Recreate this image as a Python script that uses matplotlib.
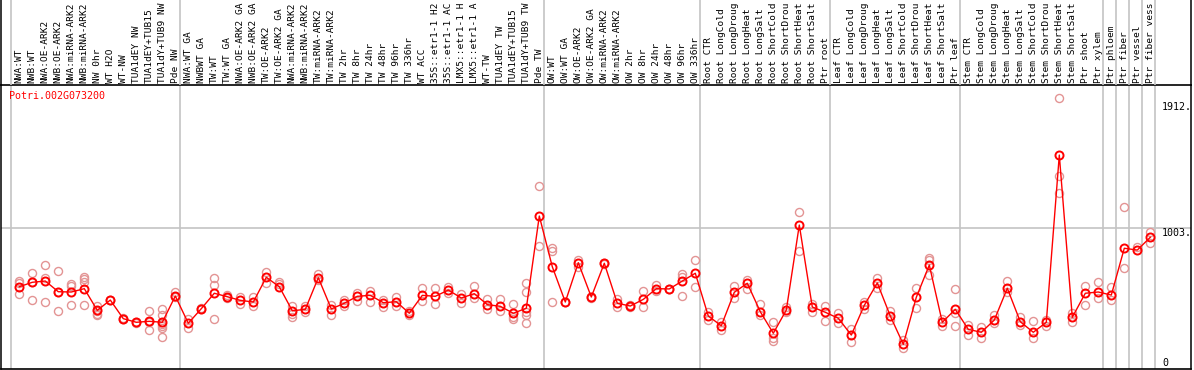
import matplotlib
matplotlib.use("Agg")
import matplotlib.pyplot as plt
from matplotlib.transforms import blended_transform_factory

categories = [
    "NWA:WT", "NWB:WT", "NWA:OE-ARK2", "NWB:OE-ARK2", "NWA:miRNA-ARK2", "NWB:miRNA-ARK2",
    "NW 0hr", "WT H2O", "WT-NW", "TUA1dEY NW", "TUA1dEY+TUB15", "TUA1dY+TUB9 NW", "Pde NW",
    "NWA:WT GA", "NWBWT GA", "TW:WT", "TW:WT GA", "NWA:OE-ARK2 GA", "NWB:OE-ARK2 GA",
    "TW:OE-ARK2", "TW:OE-ARK2 GA", "NWA:miRNA-ARK2", "NWB:miRNA-ARK2", "TW:miRNA-ARK2",
    "TW:miRNA-ARK2", "TW 2hr", "TW 8hr", "TW 24hr", "TW 48hr", "TW 96hr", "TW 336hr",
    "WT ACC", "35S::etr1-1 H2", "35S::etr1-1 AC", "LMX5::etr1-1 H", "LMX5::etr1-1 A",
    "WT-TW", "TUA1dEY TW", "TUA1dEY+TUB15", "TUA1dY+TUB9 TW", "Pde TW",
    "OW:WT", "OW:WT GA", "OW:OE-ARK2", "OW:OE-ARK2 GA", "OW:miRNA-ARK2", "OW:miRNA-ARK2",
    "OW 2hr", "OW 8hr", "OW 24hr", "OW 48hr", "OW 96hr", "OW 336hr",
    "Root CTR", "Root LongCold", "Root LongDroug", "Root LongHeat", "Root LongSalt",
    "Root ShortCold", "Root ShortDrou", "Root ShortHeat", "Root ShortSalt", "Ptr root",
    "Leaf CTR", "Leaf LongCold", "Leaf LongDroug", "Leaf LongHeat", "Leaf LongSalt",
    "Leaf ShortCold", "Leaf ShortDrou", "Leaf ShortHeat", "Leaf ShortSalt", "Ptr leaf",
    "Stem CTR", "Stem LongCold", "Stem LongDroug", "Stem LongHeat", "Stem LongSalt",
    "Stem ShortCold", "Stem ShortDrou", "Stem ShortHeat", "Stem ShortSalt", "Ptr shoot",
    "Ptr xylem", "Ptr phloem", "Ptr fiber", "Ptr vessel", "Ptr fiber vess",
]

mean_values = [
    583, 615, 624, 547, 545, 569, 413, 487, 353, 327, 334, 327, 516,
    320, 425, 536, 511, 485, 473, 651, 583, 410, 420, 648, 423, 464, 514, 521, 468, 475,
    392, 521, 514, 559, 502, 533, 454, 442, 392, 428, 1092,
    727, 473, 756, 509, 752, 464, 444, 492, 569, 567, 624, 680,
    372, 302, 543, 608, 403, 248, 415, 1027, 437, 399,
    356, 235, 449, 610, 372, 168, 507, 739, 327, 420,
    276, 255, 343, 572, 331, 255, 327, 1531, 363, 536,
    545, 523, 860, 847, 939,
]

replicates = [
    [624, 608, 528], [682, 485, 617], [737, 644, 471], [694, 408, 545], [600, 588, 451],
    [655, 636, 619, 451], [446, 408, 387, 377], [485, 490], [352, 355], [325, 329],
    [408, 331, 271], [420, 379, 315, 300, 284, 219], [545, 511],
    [351, 284], [423, 428], [648, 598, 351], [523, 500], [511, 456], [507, 444],
    [687, 612], [619, 600], [444, 387, 363], [444, 403], [672, 631], [451, 379],
    [487, 444], [540, 482], [554, 475], [487, 435], [511, 444], [410, 379],
    [572, 482], [572, 459], [583, 536], [531, 468], [588, 500], [497, 420],
    [495, 410], [456, 367, 348], [608, 547, 403, 379, 320], [1308, 878],
    [864, 842, 471], [470, 476], [775, 723], [505, 512], [748, 756], [497, 435],
    [440, 448], [550, 435], [598, 550], [565, 569], [675, 655, 518], [775, 583],
    [403, 343], [331, 271], [588, 504], [631, 564], [459, 379], [327, 212, 192],
    [439, 399], [1123, 840], [459, 403], [444, 334],
    [396, 324], [276, 187], [475, 420], [646, 572], [410, 343], [199, 144],
    [572, 432], [788, 775, 667], [351, 300], [564, 396, 300],
    [307, 235], [295, 212], [379, 320], [624, 547], [363, 307], [336, 212],
    [343, 302], [1940, 1382, 1260], [392, 327], [590, 451],
    [615, 500], [583, 487], [1155, 716], [871], [979, 900],
]

group_starts = [0, 13, 41, 53, 63, 73, 84, 85, 86, 87, 88]
gene_id = "Potri.002G073200"
axis_labels = [(1912, "1912.", "top"), (1003, "1003.", "top"), (0, "0", "bottom")]
grid_values = [1003]

W, H = 1194, 370
fig = plt.figure(figsize=(W / 100, H / 100), dpi=100)

def px_rect(x0, y0, x1, y1):
    return [x0 / W, 1 - y1 / H, (x1 - x0) / W, (y1 - y0) / H]

L, R = 1, 1191
xlim = ((L - 19.3) / 13, (R - 19.3) / 13)
ylim = (-(369 - 367.7) * 7.2, (367.7 - 85) * 7.2)

ax = fig.add_axes(px_rect(L, 85, R, 369))
top = fig.add_axes(px_rect(L, 0, R, 85))

mono = "DejaVu Sans Mono"
fs = 7.2
fs_lab = 6.8
grid_c = "#c4c4c4"
rep_c = "#e39494"

for a in (ax, top):
    a.set_xlim(*xlim)
    a.set_xticks([])
    a.set_yticks([])
    a.patch.set_alpha(0)
    for s in a.spines.values():
        s.set_visible(False)
    for side in ("left", "right"):
        a.spines[side].set_visible(True)
        a.spines[side].set_color("black")
        a.spines[side].set_linewidth(1.1)

ax.set_ylim(*ylim)
top.set_ylim(0, 1)
for side in ("bottom", "top"):
    ax.spines[side].set_visible(True)
    ax.spines[side].set_color("black")
    ax.spines[side].set_linewidth(1.2)

for g in group_starts:
    ax.axvline(g - 8 / 13, color=grid_c, lw=1.2, zorder=1)
    top.axvline(g - 8 / 13, color=grid_c, lw=1.2, zorder=1)
for gv in grid_values:
    ax.axhline(gv, color=grid_c, lw=1.2, zorder=1)

# replicate points
for i, reps in enumerate(replicates):
    ax.plot([i] * len(reps), reps, linestyle="none", marker="o", ms=5.8,
            mfc="none", mec=rep_c, mew=1.0, zorder=2, clip_on=False)

xs = list(range(len(categories)))
ax.plot(xs, mean_values, color="#ff0000", lw=1.0, marker="o", ms=5.8,
        mfc="none", mec="#ff0000", mew=1.4, zorder=3)

tr_top = blended_transform_factory(top.transData, top.transAxes)
for i, lab in enumerate(categories):
    top.text(i, 2 / 85, lab, rotation=90, ha="center", va="bottom",
             fontsize=fs_lab, family=mono, transform=tr_top)

tr = blended_transform_factory(ax.transAxes, ax.transData)
for val, txt, va in axis_labels:
    ax.text((1162 - L) / (R - L), val, txt, ha="left", va=va, fontsize=fs,
            family=mono, transform=tr, zorder=4)

ax.text(8 / (R - L), 1 - 11 / 284, gene_id, color="#ff0000", fontsize=fs,
        family=mono, ha="left", va="center", transform=ax.transAxes)

fig.savefig("out.png", dpi=100)
